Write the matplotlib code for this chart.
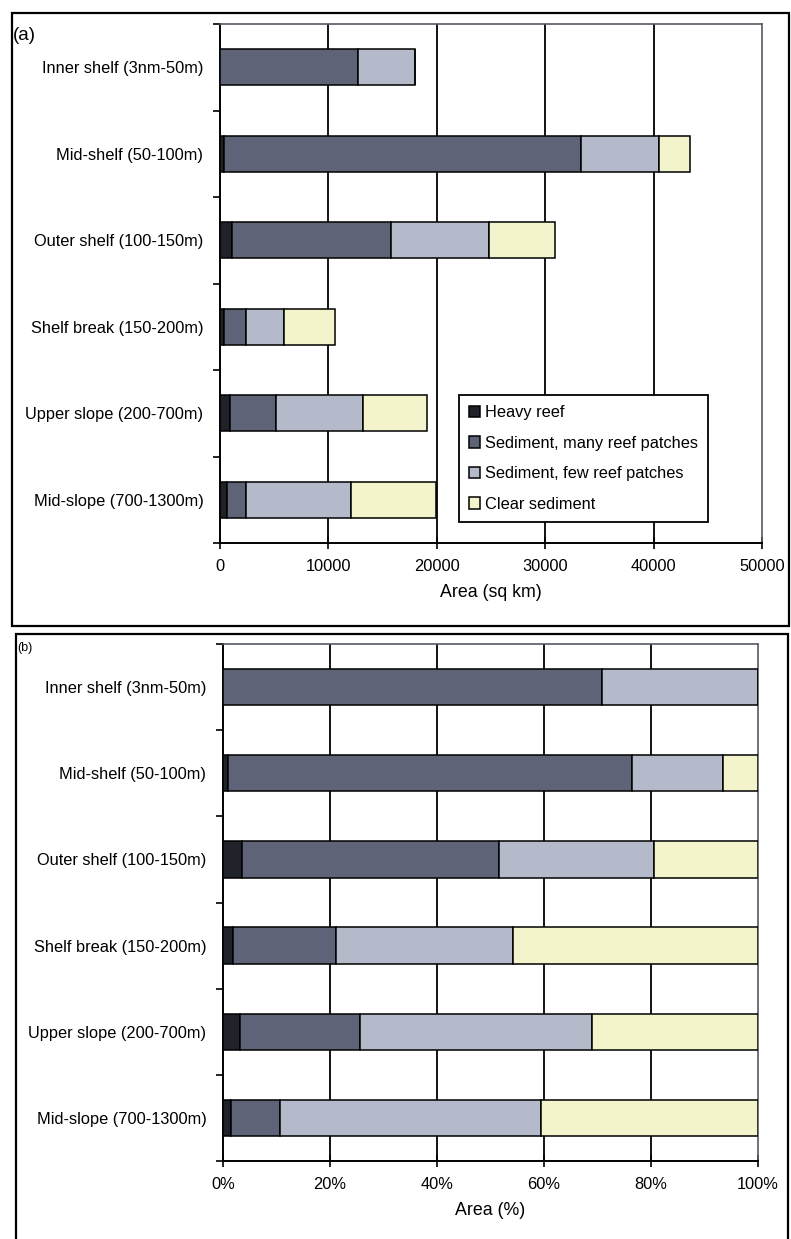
import matplotlib
matplotlib.use("Agg")
import matplotlib.pyplot as plt
from matplotlib.patches import Rectangle
from matplotlib.ticker import FixedLocator, FuncFormatter

plt.rcParams['font.family'] = ['Liberation Sans', 'DejaVu Sans']

zones = ['Inner shelf (3nm-50m)', 'Mid-shelf (50-100m)', 'Outer shelf (100-150m)',
         'Shelf break (150-200m)', 'Upper slope (200-700m)', 'Mid-slope (700-1300m)']
classes = ['Heavy reef', 'Sediment, many reef patches',
           'Sediment, few reef patches', 'Clear sediment']
colors = ['#202229', '#5e6377', '#b5bacb', '#f3f4cb']

# area of each substrate class per depth zone (sq km)
heavy_km = [0, 350, 1100, 370, 920, 600]
many_km = [12750, 32980, 14700, 1990, 4220, 1790]
few_km = [5250, 7130, 9060, 3510, 8010, 9690]
clear_km = [0, 2910, 6090, 4770, 5930, 7870]

# same classes as a share of each zone (%)
heavy_pct = [0, 1.0, 3.5, 1.9, 3.2, 1.5]
many_pct = [70.9, 75.4, 48.1, 19.2, 22.5, 9.1]
few_pct = [29.1, 17.0, 29.0, 33.1, 43.2, 48.9]
clear_pct = [0, 6.6, 19.4, 45.8, 31.1, 40.5]

W, H = 791, 1239
fig = plt.figure(figsize=(W / 100, H / 100), dpi=100)


def px_axes(x0, y0, x1, y1):
    return fig.add_axes([x0 / W, 1 - y1 / H, (x1 - x0) / W, (y1 - y0) / H])


def frame(x0, y0, x1, y1):
    fig.add_artist(Rectangle((x0 / W, 1 - y1 / H), (x1 - x0) / W, (y1 - y0) / H,
                             transform=fig.transFigure, fill=False,
                             edgecolor='black', linewidth=1.6))


def stacked(ax, series, xmax, step):
    ypos = list(range(len(zones)))
    left = [0] * len(zones)
    for vals, col, lab in zip(series, colors, classes):
        ax.barh(ypos, vals, left=left, height=0.42, color=col,
                edgecolor='black', linewidth=1.1, label=lab, zorder=3)
        left = [a + b for a, b in zip(left, vals)]
    ax.set_xlim(0, xmax)
    ax.set_ylim(len(zones) - 0.5, -0.5)
    ax.set_xticks([i * step for i in range(6)])
    for i in range(1, 5):
        ax.axvline(i * step, color='black', linewidth=1.3, zorder=1)
    ax.set_yticks(ypos)
    ax.set_yticklabels(zones, fontsize=11.8)
    ax.yaxis.set_minor_locator(FixedLocator([i - 0.5 for i in range(len(zones) + 1)]))
    ax.tick_params(axis='y', which='major', length=0, pad=12)
    ax.tick_params(axis='y', which='minor', length=5, width=1.2, direction='out')
    ax.tick_params(axis='x', which='major', length=9, width=1.2, direction='inout',
                   labelsize=11.8, pad=7)
    for s in ['left', 'bottom']:
        ax.spines[s].set_linewidth(1.4)
    for s in ['top', 'right']:
        ax.spines[s].set_color('#555a66')
        ax.spines[s].set_linewidth(1.2)


# (a) absolute area
frame(12, 13, 789, 626)
fig.text(13 / W, 1 - 36 / H, '(a)', fontsize=13.5, va='center', ha='left')
ax1 = px_axes(220, 24, 762, 543)
stacked(ax1, [heavy_km, many_km, few_km, clear_km], 50000, 10000)
ax1.set_xlabel('Area (sq km)', fontsize=12.8, labelpad=7)
leg = ax1.legend(loc='lower left', bbox_to_anchor=(0.441, 0.041), fontsize=11.8,
                 frameon=True, fancybox=False, edgecolor='black', framealpha=1,
                 handlelength=0.65, handleheight=0.7, handletextpad=0.35,
                 labelspacing=0.95, borderpad=0.6, borderaxespad=0)
leg.get_frame().set_linewidth(1.3)
leg.set_zorder(5)

# (b) percentage of each zone
frame(16, 634, 788, 1250)
fig.text(17 / W, 1 - 648 / H, '(b)', fontsize=9, va='center', ha='left')
ax2 = px_axes(223, 644, 758, 1161)
stacked(ax2, [heavy_pct, many_pct, few_pct, clear_pct], 100, 20)
ax2.xaxis.set_major_formatter(FuncFormatter(lambda v, p: '%d%%' % v))
ax2.set_xlabel('Area (%)', fontsize=12.8, labelpad=7)

fig.savefig('out.png', dpi=100)
